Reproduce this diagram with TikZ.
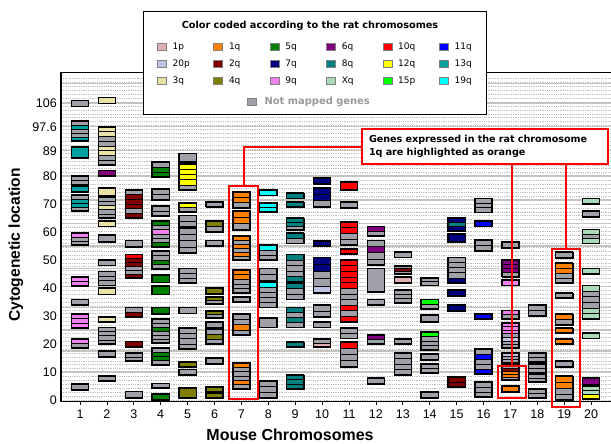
\documentclass[tikz,border=0pt]{standalone}
\usepackage{fontspec}
\setmainfont{Liberation Sans}
\newfontfamily\legfont{DejaVu Sans}
\usepackage{tikz}
\usetikzlibrary{calc}
\definecolor{gridc}{HTML}{BEBEBE}
\definecolor{bandc}{HTML}{C4C4BC}
\definecolor{nm}{HTML}{A0A0A8}
\definecolor{p1}{HTML}{E0B0B0}
\definecolor{p20}{HTML}{C0C4E4}
\definecolor{q3}{HTML}{EAE2A4}
\definecolor{q1}{HTML}{FF8000}
\definecolor{q2}{HTML}{800000}
\definecolor{q4}{HTML}{808000}
\definecolor{q5}{HTML}{008000}
\definecolor{q7}{HTML}{000080}
\definecolor{q9}{HTML}{EE82EE}
\definecolor{q6}{HTML}{800080}
\definecolor{q8}{HTML}{008080}
\definecolor{qX}{HTML}{A8DCB8}
\definecolor{q10}{HTML}{FF0000}
\definecolor{q12}{HTML}{FFFF00}
\definecolor{p15}{HTML}{00FF00}
\definecolor{q11}{HTML}{0000FF}
\definecolor{q13}{HTML}{00A0A0}
\definecolor{q19}{HTML}{00FFFF}
\definecolor{hlred}{HTML}{FF0000}
\definecolor{nmtext}{HTML}{999999}
\tikzset{
  gridline/.style={gridc, line width=0.6pt, dash pattern=on 1pt off 0.8pt},
  bandline/.style={bandc, line width=1.4pt},
  axis/.style={black, line width=1.2pt},
  gene/.style={draw=black, line width=1.3pt},
  genesep/.style={draw=black, line width=0.5pt},
  hlbox/.style={draw=hlred, line width=2pt, inner sep=0pt},
  hlline/.style={hlred, line width=2pt},
  ylab/.style={anchor=east, inner sep=0pt, font=\fontsize{12.5}{14}\selectfont},
  xlab/.style={font=\fontsize{12.5}{14}\selectfont},
  legendbox/.style={draw=black, line width=0.8pt, fill=white, inner sep=0pt},
  legkey/.style={draw=gray, line width=0.4pt, minimum width=9pt, minimum height=7pt, inner sep=0pt},
  legtext/.style={anchor=west, inner sep=0pt, font=\legfont\fontsize{9}{10}\selectfont},
  callout/.style={draw=hlred, line width=2pt, fill=white, align=left, text width=232pt,
    inner xsep=7pt, minimum height=35pt, font=\legfont\bfseries\fontsize{9.6}{13}\selectfont}
}
\newcommand\gbox[4]{%
  \gdef\gbN{0}%
  \foreach \bc in {#4}{\xdef\gbN{\the\numexpr\gbN+1\relax}}%
  \foreach \bc [count=\bi] in {#4}{%
    \filldraw[fill=\bc, genesep] (#1-0.32,{#2-(\bi-1)*(#2-#3)/\gbN}) rectangle (#1+0.32,{#2-\bi*(#2-#3)/\gbN});
  }%
  \draw[gene] (#1-0.32,#2) rectangle (#1+0.32,#3);
}
\begin{document}
\begin{tikzpicture}[x=1pt,y=-1pt]
  \useasboundingbox (0,0) rectangle (611,444);

  \begin{scope}[shift={(53.1,400)}, x=26.9pt, y=2.8pt]
    \def\xl{0.294}
    \def\xr{20.75}
    \foreach \v in {0,1.4,...,116} \draw[gridline] (\xl,\v) -- (\xr,\v);
    \foreach \v in {10,17.5,25,33,40.5,47,55,63,71.5,80,89,97.6,106,113}
      \draw[bandline] (\xl,\v) -- (\xr,\v);
    \draw[axis] (\xl,117.1) -- (\xr,117.1);
    \draw[axis] (\xl,117.1) -- (\xl,-0.4) -- (\xr,-0.4);
    \foreach \k in {1,...,20}{
      \draw[black, line width=0.8pt] (\k,-0.4) -- (\k,-1.8);
      \node[xlab] (xl\k) at (\k,-5) {\k};
    }
    \foreach \v [count=\i] in {0,10,...,80,89,97.6,106}
      \node[ylab] (ytick\i) at (0.145,\v) {\v};

    \gbox{1}{107}{104.8}{nm}
    \gbox{1}{99.6}{92.5}{nm,q13,nm,nm,q13}
    \gbox{1}{90.4}{86.4}{q13}
    \gbox{1}{80}{77}{nm,nm}
    \gbox{1}{76.4}{74.3}{q13}
    \gbox{1}{73.2}{67.5}{nm,q13,q13,nm}
    \gbox{1}{59.6}{55.4}{q9,nm,nm}
    \gbox{1}{44}{40.7}{q9,q9}
    \gbox{1}{36}{34}{nm}
    \gbox{1}{30.7}{25.7}{q9,q9,q9}
    \gbox{1}{21.8}{18.6}{q9,nm}
    \gbox{1}{5.7}{3.6}{nm}

    \gbox{2}{108}{106}{q3}
    \gbox{2}{97.5}{84}{q3,q3,nm,nm,q3,q3,nm,nm}
    \gbox{2}{82}{80}{q6}
    \gbox{2}{75.7}{73}{q3}
    \gbox{2}{72.5}{65}{nm,nm,q3,nm,nm}
    \gbox{2}{64}{62}{q3}
    \gbox{2}{59}{56.5}{nm}
    \gbox{2}{50}{48}{nm}
    \gbox{2}{46}{41}{nm,nm,nm}
    \gbox{2}{40}{37.8}{q3}
    \gbox{2}{29.6}{27.9}{q3}
    \gbox{2}{26}{20}{nm,nm,nm,nm}
    \gbox{2}{17.5}{15.4}{nm}
    \gbox{2}{8.6}{6.8}{nm}

    \gbox{3}{75}{65}{nm,q2,q2,q2,nm,q2}
    \gbox{3}{57}{54.6}{nm}
    \gbox{3}{52}{43.6}{q10,q2,q2,nm,nm,q2}
    \gbox{3}{33}{29.6}{nm,q2}
    \gbox{3}{21}{19}{q2}
    \gbox{3}{16.8}{13.9}{nm,nm}
    \gbox{3}{3}{0.8}{nm}

    \gbox{4}{85}{79.6}{nm,q5,q5}
    \gbox{4}{75.4}{71.4}{nm,nm}
    \gbox{4}{69.3}{65.7}{nm,nm}
    \gbox{4}{64}{54.6}{q5,nm,q9,nm,nm,q5}
    \gbox{4}{53.2}{46.8}{nm,nm,q5,nm}
    \gbox{4}{44.6}{42}{q5}
    \gbox{4}{40.7}{37.8}{q5}
    \gbox{4}{33}{30.7}{q5}
    \gbox{4}{29}{20.4}{nm,nm,q5,nm,nm,nm}
    \gbox{4}{18.6}{12.5}{nm,q5,q5,nm}
    \gbox{4}{6}{4.3}{nm}
    \gbox{4}{2.1}{0}{q5}

    \gbox{5}{88}{85}{nm}
    \gbox{5}{84.3}{75}{q12,q12,q12,q12,nm}
    \gbox{5}{70.4}{67.1}{q12,nm}
    \gbox{5}{66}{62}{nm,nm}
    \gbox{5}{61.4}{52.5}{nm,nm,nm,nm}
    \gbox{5}{47}{41.8}{nm,nm,nm}
    \gbox{5}{33}{31}{nm}
    \gbox{5}{25.7}{18.2}{nm,nm,nm,nm}
    \gbox{5}{13.6}{11.8}{q4}
    \gbox{5}{11}{8.9}{nm}
    \gbox{5}{4.3}{0.7}{q4}

    \gbox{6}{70.7}{69}{nm}
    \gbox{6}{64}{60}{q4,nm}
    \gbox{6}{57}{55}{nm}
    \gbox{6}{40}{37.9}{q4}
    \gbox{6}{36.8}{34.3}{q4,nm}
    \gbox{6}{31.8}{29.3}{q4,nm}
    \gbox{6}{27.9}{26}{nm}
    \gbox{6}{25.4}{20}{nm,q4,nm}
    \gbox{6}{15}{12.9}{nm}
    \gbox{6}{4.6}{2.9}{q4}
    \gbox{6}{2.5}{0.7}{q4}

    \gbox{7}{74.3}{68.6}{q1,q1,nm}
    \gbox{7}{67.5}{60.7}{q1,q1,nm}
    \gbox{7}{58.6}{50}{q1,nm,q1,nm,q1,nm}
    \gbox{7}{46.4}{38.2}{q1,q1,nm,nm,nm}
    \gbox{7}{36.8}{35}{nm}
    \gbox{7}{30.7}{23.2}{nm,nm,q1,nm}
    \gbox{7}{13.2}{3.9}{q1,nm,nm,nm,q1,nm}

    \gbox{8}{75}{73}{q19}
    \gbox{8}{70.4}{67.1}{q19,q19}
    \gbox{8}{55.4}{50}{q19,nm,nm}
    \gbox{8}{47}{42.5}{nm,nm}
    \gbox{8}{42}{33}{q19,nm,nm,nm,nm}
    \gbox{8}{29.3}{26}{nm}
    \gbox{8}{6.8}{0.7}{nm,nm,nm}

    \gbox{9}{74}{72}{q8}
    \gbox{9}{70.7}{69}{q8}
    \gbox{9}{65}{60.7}{q8,q8,nm}
    \gbox{9}{59.6}{56}{q8,nm}
    \gbox{9}{52}{42.1}{q8,nm,nm,nm,q8}
    \gbox{9}{41.8}{36}{q8,nm,nm}
    \gbox{9}{33}{26}{q8,nm,q8,nm}
    \gbox{9}{20.7}{18.9}{q8}
    \gbox{9}{8.9}{3.9}{q8,q8,q8}

    \gbox{10}{79.3}{77.1}{q7}
    \gbox{10}{75.7}{69}{q7,q7,nm}
    \gbox{10}{56.8}{55}{q7}
    \gbox{10}{51}{38.2}{q7,q7,nm,nm,p20}
    \gbox{10}{34}{29.6}{nm,nm}
    \gbox{10}{27.9}{26}{nm}
    \gbox{10}{21.8}{18.9}{nm,p1}

    \gbox{11}{77.9}{75}{q10}
    \gbox{11}{70.7}{68.6}{nm}
    \gbox{11}{63.6}{55.4}{q10,q10,nm,nm}
    \gbox{11}{53.9}{52.1}{q10}
    \gbox{11}{50}{27.9}{q10,q10,q10,q10,q10,nm,nm,nm,q10,nm,q10}
    \gbox{11}{25.7}{22}{nm,nm}
    \gbox{11}{20.7}{11.8}{q10,nm,nm,nm}

    \gbox{12}{62}{58.6}{q6,nm}
    \gbox{12}{57}{48.2}{nm,q6,nm,nm}
    \gbox{12}{47}{38.6}{nm}
    \gbox{12}{36}{34}{nm}
    \gbox{12}{23.2}{20}{q6,nm}
    \gbox{12}{7.9}{5.7}{nm}

    \gbox{13}{52.9}{51}{nm}
    \gbox{13}{47.9}{45}{nm,q2,nm}
    \gbox{13}{44}{41.8}{p1}
    \gbox{13}{39.3}{34.6}{nm,nm,nm}
    \gbox{13}{21.8}{20}{nm}
    \gbox{13}{16.8}{8.9}{nm,nm,nm,nm}

    \gbox{14}{43.6}{41}{nm,nm}
    \gbox{14}{36}{32.5}{p15,nm}
    \gbox{14}{30.4}{27.9}{nm}
    \gbox{14}{24.3}{17.9}{p15,nm,nm,nm}
    \gbox{14}{16.4}{14.3}{nm}
    \gbox{14}{12.9}{9.6}{nm,nm}
    \gbox{14}{2.9}{0.7}{nm}

    \gbox{15}{65}{60.4}{q7,q8,q7}
    \gbox{15}{59.3}{56.4}{q7}
    \gbox{15}{51}{41.8}{nm,nm,nm,nm,q7}
    \gbox{15}{39.3}{37.1}{q7}
    \gbox{15}{33.9}{31.8}{q7}
    \gbox{15}{8.2}{4.6}{q2,q2}

    \gbox{16}{72}{67}{nm,nm,nm}
    \gbox{16}{64}{62}{q11}
    \gbox{16}{57.1}{53.2}{nm,nm}
    \gbox{16}{30.7}{28.9}{q11}
    \gbox{16}{18.2}{9.3}{nm,q11,nm,nm,q11}
    \gbox{16}{6.4}{1.1}{nm,nm,nm}

    \gbox{17}{56.4}{54.3}{nm}
    \gbox{17}{50}{44}{q6,q6,q6,nm}
    \gbox{17}{42.9}{41}{q9}
    \gbox{17}{32}{28.9}{q9,nm}
    \gbox{17}{27.5}{18.6}{q9,q9,q9,nm,p20,nm,nm}
    \gbox{17}{16.8}{13.2}{p20,nm,nm}
    \gbox{17}{12.5}{7.1}{nm,q2,q1,q1,nm}
    \gbox{17}{5}{2.9}{q1}

    \gbox{18}{33.9}{30}{nm,nm}
    \gbox{18}{16.8}{13.6}{nm,nm}
    \gbox{18}{12.9}{9.6}{nm,nm}
    \gbox{18}{9.3}{6.4}{nm,nm}
    \gbox{18}{3.9}{0.7}{nm,nm}

    \gbox{19}{52.9}{50.7}{nm}
    \gbox{19}{49}{41.8}{q1,q1,nm,nm}
    \gbox{19}{38.2}{36.4}{nm}
    \gbox{19}{30.7}{26.8}{q1,nm}
    \gbox{19}{25.7}{23.9}{q1}
    \gbox{19}{21.8}{20}{q1}
    \gbox{19}{13.9}{11.8}{nm}
    \gbox{19}{8.6}{0}{q1,q1,nm,nm}

    \gbox{20}{72}{70}{qX}
    \gbox{20}{67.5}{65.4}{nm}
    \gbox{20}{61}{56}{qX,nm,qX}
    \gbox{20}{47}{45}{qX}
    \gbox{20}{41}{28.9}{qX,nm,nm,nm,qX,qX}
    \gbox{20}{23.9}{22}{qX}
    \gbox{20}{7.9}{5.4}{q6}
    \gbox{20}{5}{0.4}{qX,qX,q12}
  \end{scope}

  \node[rotate=90, font=\bfseries\fontsize{15.6}{17}\selectfont] (ytitle) at (16,245) {Cytogenetic location};
  \node[anchor=base, inner sep=0pt, font=\bfseries\fontsize{16}{18}\selectfont] (xtitle) at (290,440) {Mouse Chromosomes};

  \node[hlbox, minimum width=29pt, minimum height=213pt, anchor=north west] (hl7) at (228,185) {};
  \node[hlbox, minimum width=28pt, minimum height=32pt, anchor=north west] (hl17) at (497,365) {};
  \node[hlbox, minimum width=28pt, minimum height=158pt, anchor=north west] (hl19) at (551,248) {};

  \node[callout, anchor=north west] (callout) at (361,128)
    {Genes expressed in the rat chromosome\\1q are highlighted as orange};
  \draw[hlline] (callout.west) -| (hl7.north);
  \draw[hlline] (callout.south -| hl17.north) -- (hl17.north);
  \draw[hlline] (callout.south -| hl19.north) -- (hl19.north);

  \node[legendbox, minimum width=343pt, minimum height=103pt] (legend) at (314.5,62.5) {};
  \node[font=\legfont\bfseries\fontsize{9.7}{11}\selectfont] (legtitle) at (310,26)
    {Color coded according to the rat chromosomes};
  \foreach \lab/\col [count=\i from 0] in {1p/p1,1q/q1,5q/q5,6q/q6,10q/q10,11q/q11,
      20p/p20,2q/q2,7q/q7,8q/q8,12q/q12,13q/q13,3q/q3,4q/q4,9q/q9,Xq/qX,15p/p15,19q/q19}{
    \pgfmathtruncatemacro\lc{mod(\i,6)}
    \pgfmathtruncatemacro\lr{\i/6}
    \node[legkey, fill=\col, anchor=west] (key\i) at ({157+56.4*\lc},{47+17*\lr}) {};
    \node[legtext] (lab\i) at ($(key\i.east)+(6,0)$) {\lab};
  }
  \node[legkey, fill=nm, anchor=west] (keynm) at (247,102) {};
  \node[legtext, font=\legfont\bfseries\fontsize{9.9}{11}\selectfont, text=nmtext] (labnm)
    at ($(keynm.east)+(8,0)$) {Not mapped genes};
\end{tikzpicture}
\end{document}
